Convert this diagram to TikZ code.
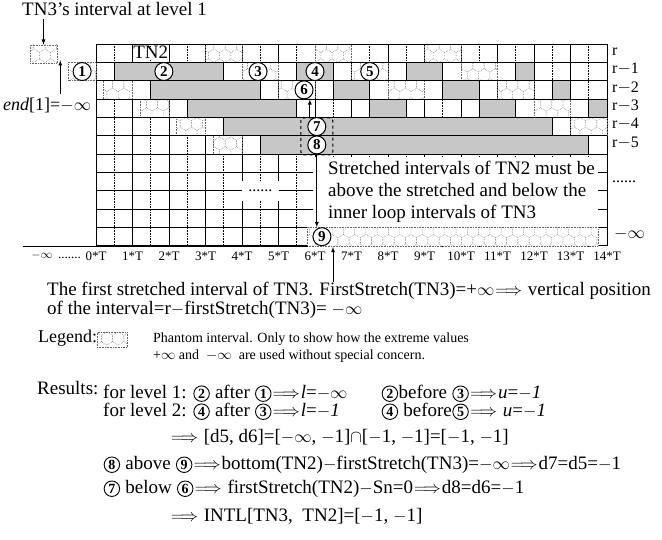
\documentclass[tikz,border=0pt]{standalone}
\usepackage{fontspec}
\setmainfont{Liberation Serif}
\usetikzlibrary{patterns}

\pgfdeclarepatternformonly{hexcells}{\pgfpoint{-0.5pt}{-0.5pt}}{\pgfpoint{11.8pt}{20pt}}{\pgfpoint{11.26pt}{19.5pt}}{%
  \pgfsetlinewidth{0.45pt}%
  \pgfpathmoveto{\pgfpoint{5.63pt}{0pt}}%
  \pgfpathlineto{\pgfpoint{11.26pt}{3.25pt}}%
  \pgfpathlineto{\pgfpoint{11.26pt}{9.75pt}}%
  \pgfpathlineto{\pgfpoint{5.63pt}{13pt}}%
  \pgfpathlineto{\pgfpoint{0pt}{9.75pt}}%
  \pgfpathlineto{\pgfpoint{0pt}{3.25pt}}%
  \pgfpathclose%
  \pgfpathmoveto{\pgfpoint{5.63pt}{13pt}}%
  \pgfpathlineto{\pgfpoint{5.63pt}{19.5pt}}%
  \pgfusepath{stroke}%
}

\newcommand{\setfs}[1]{\fontsize{#1}{#1}\selectfont}
\newcommand{\imp}{\kern1pt\relax$\Longrightarrow$\kern1pt\relax}
\newcommand{\cnum}[1]{\kern0.5pt\relax\tikz[baseline=(cn.base)]\node[circle, draw, line width=0.9pt, inner sep=0pt, minimum size=15.5pt, font=\bfseries\setfs{14}] (cn) {#1};\kern0.5pt\relax}

\begin{document}
\begin{tikzpicture}[x=1pt, y=-1pt, >=latex,
    stretch/.style={draw, line width=0.6pt, fill=black!22},
    phantom/.style={fill=white, postaction={pattern=hexcells, pattern color=black!55}, draw=black!60, densely dotted, line width=0.6pt},
    numc/.style={circle, draw, line width=1pt, fill=white, inner sep=0pt, minimum size=18pt, font=\bfseries\setfs{15}},
    txt/.style={anchor=mid west, inner sep=0pt, font=\setfs{19}},
    legtxt/.style={anchor=mid west, inner sep=0pt, font=\setfs{14}},
    rowlbl/.style={anchor=mid west, inner sep=0pt, font=\setfs{16}},
    ticklbl/.style={inner sep=0pt, font=\setfs{13}},
    gridline/.style={line width=0.7pt},
    halfline/.style={densely dotted, line width=0.6pt}
  ]
  \useasboundingbox (0,0) rectangle (662,540);

  % Levels r ... -oo
  \begin{scope}[shift={(96pt,-44pt)}, x=36.5pt, y=-18.35pt]
    \foreach \k in {0,...,13} \draw[halfline] (\k+0.5,0) -- (\k+0.5,11);
    \foreach \k in {0,...,14} \draw[gridline] (\k,0) -- (\k,11);
    \foreach \j in {0,...,11} \draw[gridline] (0,\j) -- (14,\j);

    % level r
    \foreach \a in {3,6,9} \path[phantom] (\a,0) rectangle (\a+1,1);
    % level r-1
    \path[phantom] (-0.77,1) rectangle (0,2);
    \foreach \a/\b in {0.5/3.5, 5.5/6.5, 8.5/9.5, 11.5/12} \path[stretch] (\a,1) rectangle (\b,2);
    \foreach \a in {4,7,10} \path[phantom] (\a,1) rectangle (\a+1,2);
    % level r-2
    \path[phantom] (0.2,2) rectangle (1,3);
    \foreach \a/\b in {1.5/4.5, 6.5/7.5, 9.5/10.5, 12.5/13} \path[stretch] (\a,2) rectangle (\b,3);
    \foreach \a in {5,8,11} \path[phantom] (\a,2) rectangle (\a+1,3);
    % level r-3
    \path[phantom] (1.2,3) rectangle (2,4);
    \foreach \a/\b in {2.5/5.5, 7.5/8.5, 10.5/11.5, 13.5/14} \path[stretch] (\a,3) rectangle (\b,4);
    \path[phantom] (12,3) rectangle (13,4);
    % level r-4
    \path[phantom] (2.2,4) rectangle (3,5);
    \path[stretch] (3.5,4) rectangle (12.5,5);
    \path[phantom] (13,4) rectangle (14,5);
    % level r-5
    \path[phantom] (3.2,5) rectangle (4,6);
    \path[stretch] (4.5,5) rectangle (13.5,6);
    \foreach \j in {0,...,6} \draw[gridline] (0,\j) -- (14,\j);

    % gap and note
    \node[fill=white, inner sep=0pt, minimum width=37pt, minimum height=20pt, font=\setfs{16}] (gap) at (4.5,8.02) {......};
    \path[fill=white] (5.95,6.15) rectangle (13.75,10.03);
    % level -oo
    \path[phantom] (5.8,10) rectangle (13.75,11);

    % TN2 and the circled intervals
    \node[fill=white, inner sep=0pt, text height=12pt, text depth=1pt, font=\setfs{19}] (tn2) at (1.5,0.5) {TN2};
    \node[numc] (n1) at (-0.38,1.5) {1};
    \node[numc] (n2) at (1.86,1.5) {2};
    \node[numc] (n3) at (4.44,1.5) {3};
    \node[numc] (n4) at (6,1.5) {4};
    \node[numc] (n5) at (7.5,1.5) {5};
    \node[numc] (n6) at (5.7,2.5) {6};
    \node[draw, dashed, line width=1.1pt, rounded corners=3pt, minimum width=32pt, minimum height=37pt, inner sep=0pt] (grp) at (6.05,5.03) {};
    \node[numc] (n7) at (6.05,4.5) {7};
    \node[numc] (n8) at (6.05,5.5) {8};
    \node[numc] (n9) at (6.19,10.5) {9};
    \draw[thick, ->] ([xshift=-7pt]grp.north) -- ([xshift=-7pt]grp.north |- n6.south);
    \draw[thick, ->] (n8.south) -- (n8.south |- n9.north);

    % level labels
    \node[rowlbl, xshift=5pt] (lr0) at (14,0.5) {r};
    \node[rowlbl, xshift=5pt] (lr1) at (14,1.5) {r$-$1};
    \node[rowlbl, xshift=5pt] (lr2) at (14,2.5) {r$-$2};
    \node[rowlbl, xshift=5pt] (lr3) at (14,3.5) {r$-$3};
    \node[rowlbl, xshift=5pt] (lr4) at (14,4.5) {r$-$4};
    \node[rowlbl, xshift=5pt] (lr5) at (14,5.5) {r$-$5};
    \node[rowlbl, xshift=5pt] (ldots) at (14,7.4) {......};
    \node[rowlbl, xshift=7pt] (linf) at (14,10.5) {$-\infty$};

    % time axis
    \foreach \k in {0,...,14} \node[ticklbl, yshift=-10pt] (t\k) at (\k,11) {\k*T};
  \end{scope}
  \draw[gridline] (23,246) -- (307.7,246);
  \node[ticklbl, anchor=mid east] (tminf) at (81,256) {$-\infty$ \,.......};

  % note on stretched intervals
  \node[txt] (note1) at (328,172) {Stretched intervals of TN2 must be};
  \node[txt] (note2) at (328,194) {above the stretched and below the};
  \node[txt] (note3) at (328,216) {inner loop intervals of TN3};

  % TN3 at level 1
  \node[txt] (tn3lbl) at (22,13) {TN3’s interval at level 1};
  \node[phantom, minimum width=27pt, minimum height=18pt, inner sep=0pt] (tn3box) at (43.5,54) {};
  \draw[thick, ->, shorten <=3pt] (tn3lbl.south -| tn3box.north) -- (tn3box.north);
  \node[txt, font=\setfs{18}] (endlbl) at (3,108) {\textit{end}[1]=$-\infty$};
  \draw[thick, ->, shorten <=4pt] ([xshift=3pt]endlbl.north -| tn3box.east) -- ([xshift=3pt, yshift=3pt]tn3box.south east);

  % first stretched interval of TN3
  \coordinate (axpt) at (333,247);
  \node[txt] (fs1) at (47,293) {The first stretched interval of TN3. FirstStretch(TN3)=+$\infty$\imp{} vertical position};
  \node[txt] (fs2) at (47,312) {of the interval=r$-$firstStretch(TN3)= $-\infty$};
  \draw[thick, ->] (fs1.north -| axpt) -- (axpt);

  % Legend
  \node[txt, font=\setfs{18}] (leg) at (38,340) {Legend:};
  \node[phantom, minimum width=30pt, minimum height=15pt, inner sep=0pt] (legbox) at (112,340) {};
  \node[legtxt] (leg1) at (153,340) {Phantom interval. Only to show how the extreme values};
  \node[legtxt] (leg2) at (153,357) {+$\infty$ and \ $-\infty$ \ are used without special concern.};

  % Results
  \node[txt] (res) at (37,392) {Results:};
  \node[txt] (r1a) at (103,396) {for level 1: \cnum{2} after \cnum{1}\imp{}\textit{l}=$-\infty$};
  \node[txt] (r1b) at (381,396) {\cnum{2}before \cnum{3}\imp{}\textit{u}=$-$\textit{1}};
  \node[txt] (r2a) at (103,414) {for level 2: \cnum{4} after \cnum{3}\imp{}\textit{l}=$-$\textit{1}};
  \node[txt] (r2b) at (381,414) {\cnum{4} before\cnum{5}\imp{} \textit{u}=$-$\textit{1}};
  \node[txt] (d56) at (170,440) {\imp{} [d5, d6]=[$-\infty$, $-$1]$\cap$[$-$1, $-$1]=[$-$1, $-$1]};
  \node[txt] (d7) at (103,467) {\cnum{8} above \cnum{9}\imp{}bottom(TN2)$-$firstStretch(TN3)=$-\infty$\imp{}d7=d5=$-$1};
  \node[txt] (d8) at (103,491) {\cnum{7} below \cnum{6}\imp{} firstStretch(TN2)$-$Sn=0\imp{}d8=d6=$-$1};
  \node[txt] (intl) at (170,519) {\imp{} INTL[TN3, \ TN2]=[$-$1, $-$1]};
\end{tikzpicture}
\end{document}
